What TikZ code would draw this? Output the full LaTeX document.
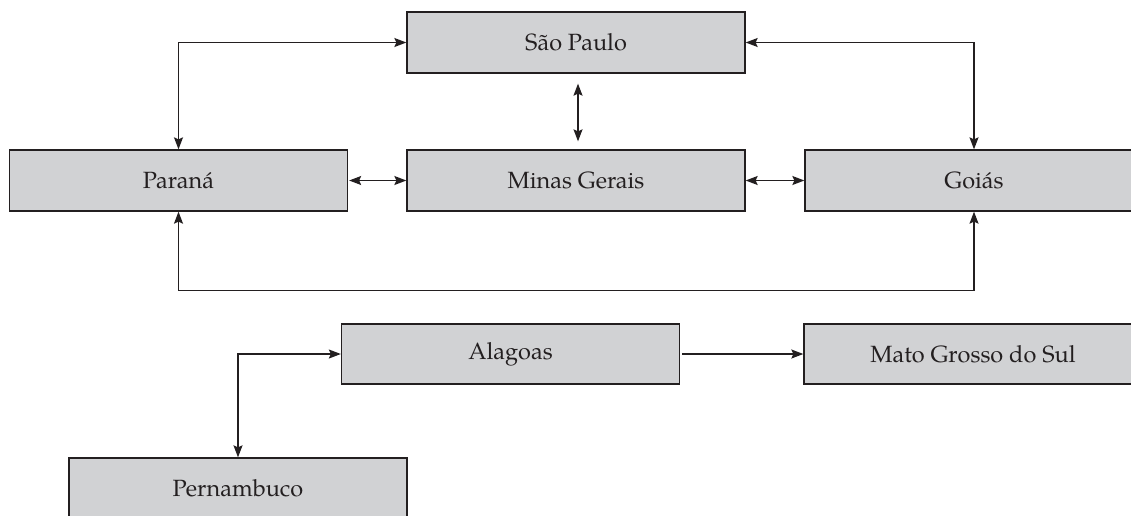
\documentclass[tikz,border=0pt]{standalone}
\usepackage{fontspec}
\setmainfont{TeX Gyre Pagella}
\usetikzlibrary{arrows.meta}
\definecolor{boxfill}{HTML}{D1D2D4}
\definecolor{ink}{HTML}{231F20}
\tikzset{
  statebox/.style={draw=ink, fill=boxfill, line width=1.3pt, minimum width=338pt, minimum height=61pt, inner sep=0pt, text=ink, font=\fontsize{23.5}{28}\selectfont},
  conn/.style={draw=ink, line width=1.3pt, arrows={-Stealth[length=12pt,width=9pt,inset=2pt]}},
  bothconn/.style={conn, arrows={Stealth[length=12pt,width=9pt,inset=2pt]-Stealth[length=12pt,width=9pt,inset=2pt]}}
}
\begin{document}
\begin{tikzpicture}[x=1pt,y=-1pt]
\useasboundingbox (0,0) rectangle (1131,515);
\clip (0,0) rectangle (1131,515);
\node[statebox] (sp)  at (576,42.5)  {São Paulo};
\node[statebox] (par) at (178.5,180.5) {Paraná};
\node[statebox] (mg)  at (576,180.5) {Minas Gerais};
\node[statebox] (goi) at (974,180.5) {Goiás};
\node[statebox, minimum height=60pt] (ala) at (510.5,354) {Alagoas};
\node[statebox, minimum height=60pt] (mgs) at (973,354) {Mato Grosso do Sul};
\node[statebox] (per) at (238,488.5) {Pernambuco};
\draw[bothconn] (sp.west) -| (par.north);
\draw[bothconn] (sp.east) -| (goi.north);
\draw[bothconn] (par.south) -- ++(0,79) -| (goi.south);
\draw[bothconn, shorten <=10pt, shorten >=8pt] ([xshift=2pt]sp.south) -- ([xshift=2pt]mg.north);
\draw[bothconn, shorten <=1pt] (par.east) -- (mg.west);
\draw[bothconn] (mg.east) -- (goi.west);
\draw[conn, shorten <=2pt] (ala.east) -- (mgs.west);
\draw[bothconn] (ala.west) -| (per.north);
\end{tikzpicture}
\end{document}
